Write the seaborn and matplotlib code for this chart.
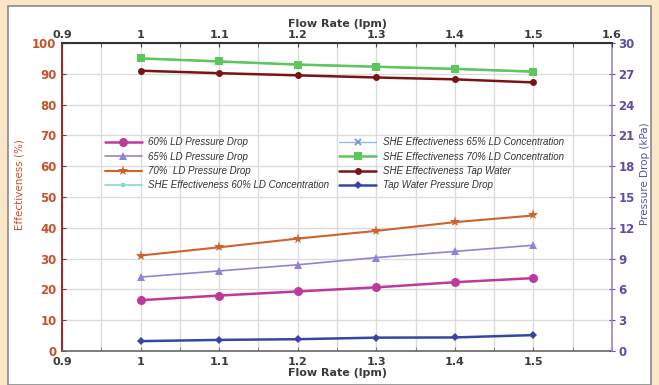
import numpy as np
import pandas as pd
import matplotlib
matplotlib.use("Agg")
import matplotlib.pyplot as plt
import seaborn as sns
from matplotlib.patches import Rectangle
from matplotlib.ticker import MultipleLocator

sns.set_style("white")
plt.rcParams['font.family'] = ['DejaVu Sans']

flow = [1.0, 1.1, 1.2, 1.3, 1.4, 1.5]

# Pressure drop (kPa) - right axis
pd60 = [4.95, 5.4, 5.8, 6.2, 6.7, 7.1]
pd65 = [7.2, 7.8, 8.4, 9.1, 9.7, 10.3]
pd70 = [9.3, 10.1, 10.95, 11.7, 12.55, 13.2]
pd_tap = [0.96, 1.08, 1.15, 1.3, 1.32, 1.55]

# SHE effectiveness (%) - left axis
she60 = [95.0, 94.1, 93.0, 92.3, 91.6, 90.7]
she65 = [95.0, 94.0, 92.9, 92.2, 91.5, 90.6]
she70 = [95.0, 94.0, 93.0, 92.3, 91.6, 90.7]
she_tap = [91.0, 90.2, 89.5, 88.8, 88.2, 87.2]

labels = {
    "pd60": "60% LD Pressure Drop",
    "pd65": "65% LD Pressure Drop",
    "pd70": "70%  LD Pressure Drop",
    "she60": "SHE Effectiveness 60% LD Concentration",
    "she65": "SHE Effectiveness 65% LD Concentration",
    "she70": "SHE Effectiveness 70% LD Concentration",
    "shetap": "SHE Effectiveness Tap Water",
    "pdtap": "Tap Water Pressure Drop",
}

fig = plt.figure(figsize=(6.59, 3.85), dpi=100)
fig.patch.set_facecolor("#fbe6c8")
bg = Rectangle((8/659, 0.0), (651-8)/659, 1 - 6/385,
               transform=fig.transFigure, facecolor="white",
               edgecolor="#8a8a8a", linewidth=1.2, zorder=-10)
fig.add_artist(bg)

left, right, top, bottom = 62/659, 612/659, 1 - 43/385, 1 - 351/385
ax1 = fig.add_axes([left, bottom, right - left, top - bottom])
ax1.set_facecolor("none")
ax2 = ax1.twinx()
ax3 = ax1.twiny()
for a in (ax2, ax3):
    a.set_facecolor("none")

orange = "#c9512a"
purple = "#5a4fa5"
dark = "#3a3a3a"

# left axis series
sns.lineplot(x=flow, y=she60, ax=ax1, color="#86d8cc", marker="s", markersize=3.5,
             linewidth=1.2, label=labels["she60"], markeredgewidth=0)
sns.lineplot(x=flow, y=she65, ax=ax1, color="#9ab8e4", marker="x", markersize=4,
             linewidth=1.0, label=labels["she65"], markeredgecolor="#6f90d0",
             markeredgewidth=1.2)
sns.lineplot(x=flow, y=she70, ax=ax1, color="#5cc75c", marker="s", markersize=5.5,
             linewidth=1.8, label=labels["she70"], markeredgewidth=0)
sns.lineplot(x=flow, y=she_tap, ax=ax1, color="#7a1414", marker="o", markersize=5,
             linewidth=1.8, label=labels["shetap"], markeredgewidth=0)

# right axis series
sns.lineplot(x=flow, y=pd60, ax=ax2, color="#bd3a9c", marker="o", markersize=6.5,
             linewidth=1.8, label=labels["pd60"], markeredgewidth=0)
sns.lineplot(x=flow, y=pd65, ax=ax2, color="#8c86d2", marker="^", markersize=6,
             linewidth=1.2, label=labels["pd65"], markeredgewidth=0)
sns.lineplot(x=flow, y=pd70, ax=ax2, color="#d0622c", marker="*", markersize=8,
             linewidth=1.5, label=labels["pd70"], markeredgewidth=0)
sns.lineplot(x=flow, y=pd_tap, ax=ax2, color="#3646a2", marker="D", markersize=4.5,
             linewidth=1.8, label=labels["pdtap"], markeredgewidth=0)

h1, l1 = ax1.get_legend_handles_labels()
h2, l2 = ax2.get_legend_handles_labels()
for a in (ax1, ax2):
    if a.get_legend():
        a.get_legend().remove()
hmap = dict(zip(l1 + l2, h1 + h2))
order = [labels[k] for k in ["pd60", "pd65", "pd70", "she60", "she65", "she70", "shetap", "pdtap"]]

ax1.set_xlim(0.9, 1.6)
ax1.set_ylim(0, 100)
ax2.set_ylim(0, 30)
ax3.set_xlim(0.9, 1.6)

# grid
ax1.xaxis.set_major_locator(MultipleLocator(0.1))
ax1.xaxis.set_minor_locator(MultipleLocator(0.05))
ax1.yaxis.set_major_locator(MultipleLocator(10))
ax1.grid(True, which="both", axis="x", color="#dcdcdc", linewidth=1.0)
ax1.grid(True, which="major", axis="y", color="#dcdcdc", linewidth=1.0)
ax1.set_axisbelow(True)

ax1.set_xticks([0.9, 1.0, 1.1, 1.2, 1.3, 1.4, 1.5])
ax1.set_xticklabels(["0.9", "1", "1.1", "1.2", "1.3", "1.4", "1.5"])
ax3.set_xticks([0.9, 1.0, 1.1, 1.2, 1.3, 1.4, 1.5, 1.6])
ax3.set_xticklabels(["0.9", "1", "1.1", "1.2", "1.3", "1.4", "1.5", "1.6"])
ax3.xaxis.set_minor_locator(MultipleLocator(0.05))
ax2.set_yticks(np.arange(0, 31, 3))

for t in ax1.get_xticklabels() + ax3.get_xticklabels():
    t.set_fontweight("bold"); t.set_fontsize(8); t.set_color(dark)
for t in ax1.get_yticklabels():
    t.set_fontweight("bold"); t.set_fontsize(8.5); t.set_color(orange)
for t in ax2.get_yticklabels():
    t.set_fontweight("bold"); t.set_fontsize(8.5); t.set_color(purple)

ax1.tick_params(axis="x", direction="in", length=3, color="#777777", pad=4, which="both")
ax1.tick_params(axis="y", direction="in", length=3, color="#9b2f2f", pad=4, left=True)
ax3.tick_params(axis="x", direction="in", length=3, color="#444444", pad=2, which="both", top=True)
ax2.tick_params(axis="y", direction="inout", length=5, color=purple, pad=2, right=True)
ax1.tick_params(axis="x", bottom=True, which="both")

ax1.set_xlabel("Flow Rate (lpm)", fontsize=8, fontweight="bold", color=dark, labelpad=1)
ax3.set_xlabel("Flow Rate (lpm)", fontsize=8, fontweight="bold", color=dark, labelpad=2)
ax1.set_ylabel("Effectiveness (%)", fontsize=7.5, color=orange)
ax2.set_ylabel("Pressure Drop (kPa)", fontsize=7.5, color=purple)
ax1.yaxis.set_label_coords(-0.068, 0.54)
ax2.yaxis.set_label_coords(1.05, 0.575)

for a in (ax1, ax2, ax3):
    for s in a.spines.values():
        s.set_visible(False)
ax1.spines["left"].set_visible(True)
ax1.spines["left"].set_color("#9b2f2f")
ax1.spines["left"].set_linewidth(1.5)
ax1.spines["bottom"].set_visible(True)
ax1.spines["bottom"].set_color("#666666")
ax1.spines["bottom"].set_linewidth(1.2)
ax3.spines["top"].set_visible(True)
ax3.spines["top"].set_color("#333333")
ax3.spines["top"].set_linewidth(1.5)
ax2.spines["right"].set_visible(True)
ax2.spines["right"].set_color("#8f88cf")
ax2.spines["right"].set_linewidth(1.2)

leg = ax2.legend([hmap[k] for k in order], order, ncol=2, frameon=False,
                 loc="upper left", bbox_to_anchor=(0.074, 0.70),
                 handlelength=3.8, columnspacing=1.0,
                 labelspacing=0.45, handletextpad=0.7,
                 borderaxespad=0.0, borderpad=0.2,
                 prop={"style": "italic", "size": 7,
                       "family": ["Liberation Sans", "DejaVu Sans"]})
for t in leg.get_texts():
    t.set_color("#333333")

fig.savefig("out.png", dpi=100, facecolor=fig.get_facecolor())
